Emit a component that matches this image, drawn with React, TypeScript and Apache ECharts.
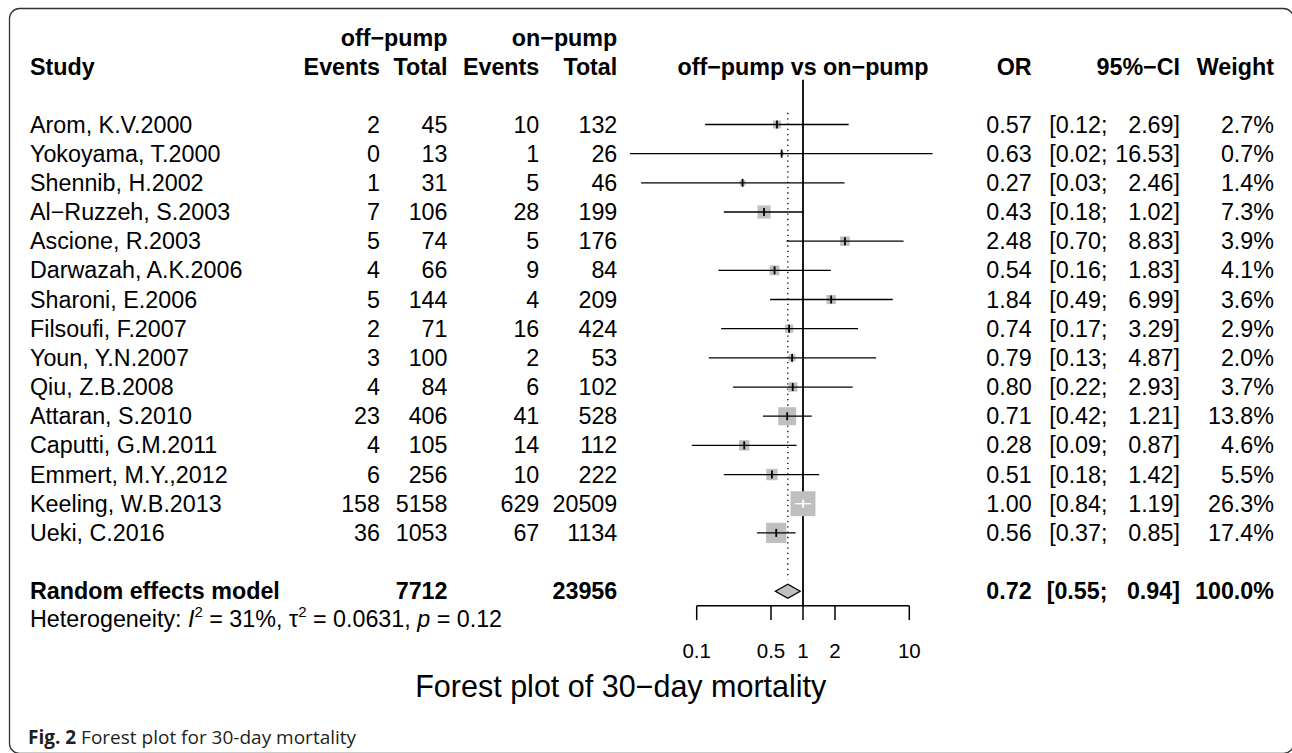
import React, { useEffect, useRef } from "react";
import * as echarts from "echarts";

// ---------------- data ----------------
const studies = [
  "Arom, K.V.2000",
  "Yokoyama, T.2000",
  "Shennib, H.2002",
  "Al\u2212Ruzzeh, S.2003",
  "Ascione, R.2003",
  "Darwazah, A.K.2006",
  "Sharoni, E.2006",
  "Filsoufi, F.2007",
  "Youn, Y.N.2007",
  "Qiu, Z.B.2008",
  "Attaran, S.2010",
  "Caputti, G.M.2011",
  "Emmert, M.Y.,2012",
  "Keeling, W.B.2013",
  "Ueki, C.2016",
];
const eventsOff = [2, 0, 1, 7, 5, 4, 5, 2, 3, 4, 23, 4, 6, 158, 36];
const totalOff = [45, 13, 31, 106, 74, 66, 144, 71, 100, 84, 406, 105, 256, 5158, 1053];
const eventsOn = [10, 1, 5, 28, 5, 9, 4, 16, 2, 6, 41, 14, 10, 629, 67];
const totalOn = [132, 26, 46, 199, 176, 84, 209, 424, 53, 102, 528, 112, 222, 20509, 1134];
const oddsRatio = [0.57, 0.63, 0.27, 0.43, 2.48, 0.54, 1.84, 0.74, 0.79, 0.8, 0.71, 0.28, 0.51, 1.0, 0.56];
const ciLower = [0.12, 0.02, 0.03, 0.18, 0.7, 0.16, 0.49, 0.17, 0.13, 0.22, 0.42, 0.09, 0.18, 0.84, 0.37];
const ciUpper = [2.69, 16.53, 2.46, 1.02, 8.83, 1.83, 6.99, 3.29, 4.87, 2.93, 1.21, 0.87, 1.42, 1.19, 0.85];
const weights = [2.7, 0.7, 1.4, 7.3, 3.9, 4.1, 3.6, 2.9, 2.0, 3.7, 13.8, 4.6, 5.5, 26.3, 17.4];

const pooledLabel = "Random effects model";
const pooledTotalOff = 7712;
const pooledTotalOn = 23956;
const pooledOR = 0.72;
const pooledLower = 0.55;
const pooledUpper = 0.94;
const pooledWeight = 100.0;

const hetI2 = 31;
const hetTau2 = "0.0631";
const hetP = "0.12";

const axisTicks = [0.1, 0.5, 1, 2, 10];
const axisTickLabels = ["0.1", "0.5", "1", "2", "10"];

const groupLabels = ["off\u2212pump", "on\u2212pump"];
const colHeaders = ["Study", "Events", "Total", "Events", "Total", "off\u2212pump vs on\u2212pump", "OR", "95%\u2212CI", "Weight"];
const titleText = "Forest plot of 30\u2212day mortality";
const captionBold = "Fig. 2";
const captionText = "Forest plot for 30-day mortality";

// ---------------- layout ----------------
const W = 1292;
const H = 753;
const ROW0 = 124.5;
const ROWH = 29.17;
const Y_MIN = -4;
const Y_MAX = 21;
const X_LO = 0.02358;
const X_HI = 42.4;
const FONT = "'Liberation Sans', Arial, Helvetica, sans-serif";
const FS = 23.3;
const AX_FS = 20.5;
const SQ = 4.85;

const X_STUDY = 30;
const X_EV_OFF = 380;
const X_TOT_OFF = 447.5;
const X_EV_ON = 539.3;
const X_TOT_ON = 617.3;
const X_OR = 1031.7;
const X_CI_L = 1107.5;
const X_CI_R = 1180;
const X_W = 1274;

const ROW_GROUP = -2.98;
const ROW_HEAD = -1.96;
const ROW_POOLED = 16;
const ROW_HET = 16.96;
const ROW_AXIS = 16.5;
const ROW_TICK_END = 16.99;
const ROW_TICKLAB = 18.03;
const ROW_REF_TOP = -1.53;
const ROW_DOT_TOP = -0.4;
const ROW_DOT_BOT = 15.6;

let measureCtx: CanvasRenderingContext2D | null = null;
function textWidth(t: string, size: number, weight = "normal", style = "normal", family = FONT) {
  if (!measureCtx) measureCtx = document.createElement("canvas").getContext("2d");
  if (!measureCtx) return t.length * size * 0.5;
  measureCtx.font = `${style} ${weight} ${size}px ${family}`;
  return measureCtx.measureText(t).width;
}

function txt(text: string, x: number, y: number, align: string, opts: any = {}) {
  return {
    type: "text",
    silent: true,
    style: {
      text,
      x,
      y,
      fill: opts.fill || "#000",
      fontSize: opts.fontSize || FS,
      fontFamily: opts.fontFamily || FONT,
      fontWeight: opts.fontWeight || "normal",
      fontStyle: opts.fontStyle || "normal",
      align,
      verticalAlign: "middle",
    },
  };
}

function seg(x0: number, y: number, parts: any[], baseSize: number) {
  const out: any[] = [];
  let x = x0;
  for (const p of parts) {
    const size = p.size || baseSize;
    const weight = p.bold ? "bold" : "normal";
    const style = p.italic ? "italic" : "normal";
    const lead = p.t.length - p.t.replace(/^\s+/, "").length;
    const leadW = lead ? textWidth(p.t.slice(0, lead), size, weight, style, p.family || FONT) : 0;
    const trimmed = p.t.trim();
    if (trimmed) {
      out.push(
        txt(trimmed, x + leadW, y + (p.dy || 0), "left", {
          fontSize: size,
          fontWeight: weight,
          fontStyle: style,
          fontFamily: p.family || FONT,
          fill: p.fill,
        })
      );
    }
    x += textWidth(p.t, size, weight, style, p.family || FONT);
  }
  return out;
}

export default function App() {
  const ref = useRef<HTMLDivElement>(null);
  useEffect(() => {
    if (!ref.current) return;
    const chart = echarts.init(ref.current, null, { renderer: "svg", width: W, height: H });

    const studyData = studies.map((_, i) => [oddsRatio[i], ciLower[i], ciUpper[i], i, weights[i]]);

    const studyRender = (params: any, api: any) => {
      const i = params.dataIndex;
      const est = api.value(0);
      const lo = api.value(1);
      const hi = api.value(2);
      const row = api.value(3);
      const w = api.value(4);
      const c = api.coord([est, row]);
      const y = c[1];
      const xl = api.coord([Math.max(lo, X_LO), row])[0];
      const xh = api.coord([Math.min(hi, X_HI), row])[0];
      const side = SQ * Math.sqrt(w);
      const inside = xl >= c[0] - side / 2 && xh <= c[0] + side / 2;
      const lc = inside ? "#ffffff" : "#000000";
      const children: any[] = [
        { type: "rect", silent: true, shape: { x: c[0] - side / 2, y: y - side / 2, width: side, height: side }, style: { fill: "#bfbfbf" } },
        { type: "line", silent: true, shape: { x1: xl, y1: y, x2: xh, y2: y }, style: { stroke: lc, lineWidth: 1.3 } },
        { type: "line", silent: true, shape: { x1: c[0], y1: y - 4, x2: c[0], y2: y + 4 }, style: { stroke: lc, lineWidth: 1.8 } },
        txt(studies[i], X_STUDY, y, "left"),
        txt(String(eventsOff[i]), X_EV_OFF, y, "right"),
        txt(String(totalOff[i]), X_TOT_OFF, y, "right"),
        txt(String(eventsOn[i]), X_EV_ON, y, "right"),
        txt(String(totalOn[i]), X_TOT_ON, y, "right"),
        txt(est.toFixed(2), X_OR, y, "right"),
        txt("[" + lo.toFixed(2) + ";", X_CI_L, y, "right"),
        txt(hi.toFixed(2) + "]", X_CI_R, y, "right"),
        txt(w.toFixed(1) + "%", X_W, y, "right"),
      ];
      return { type: "group", children };
    };

    const frameRender = (params: any, api: any) => {
      const est = api.value(0);
      const lo = api.value(1);
      const hi = api.value(2);
      const row = api.value(3);
      const one = api.coord([1, row]);
      const yP = one[1];
      const yTop = api.coord([1, ROW_REF_TOP])[1];
      const yAxis = api.coord([1, ROW_AXIS])[1];
      const yTickEnd = api.coord([1, ROW_TICK_END])[1];
      const yTickLab = api.coord([1, ROW_TICKLAB])[1];
      const xEst = api.coord([est, row])[0];
      const xLo = api.coord([lo, row])[0];
      const xHi = api.coord([hi, row])[0];
      const yDotTop = api.coord([est, ROW_DOT_TOP])[1];
      const yDotBot = api.coord([est, ROW_DOT_BOT])[1];
      const xAxisL = api.coord([axisTicks[0], ROW_AXIS])[0];
      const xAxisR = api.coord([axisTicks[axisTicks.length - 1], ROW_AXIS])[0];
      const yG = api.coord([1, ROW_GROUP])[1];
      const yH = api.coord([1, ROW_HEAD])[1];
      const yHet = api.coord([1, ROW_HET])[1];

      const children: any[] = [
        { type: "line", silent: true, shape: { x1: one[0], y1: yTop, x2: one[0], y2: yAxis }, style: { stroke: "#000", lineWidth: 1.8 } },
        { type: "line", silent: true, shape: { x1: xEst, y1: yDotTop, x2: xEst, y2: yDotBot }, style: { stroke: "#000", lineWidth: 1.3, lineDash: [1.3, 4] } },
        { type: "line", silent: true, shape: { x1: xAxisL, y1: yAxis, x2: xAxisR, y2: yAxis }, style: { stroke: "#000", lineWidth: 1.5 } },
      ];
      axisTicks.forEach((t, k) => {
        const x = api.coord([t, ROW_AXIS])[0];
        children.push({ type: "line", silent: true, shape: { x1: x, y1: yAxis, x2: x, y2: yTickEnd }, style: { stroke: "#000", lineWidth: 1.5 } });
        children.push(txt(axisTickLabels[k], x, yTickLab, "center", { fontSize: AX_FS }));
      });
      children.push({
        type: "polygon",
        silent: true,
        shape: { points: [[xLo, yP], [xEst, yP - 7], [xHi, yP], [xEst, yP + 7]] },
        style: { fill: "#c0c0c0", stroke: "#000", lineWidth: 1.3 },
      });
      const B = { fontWeight: "bold" };
      // header rows
      children.push(txt(groupLabels[0], X_TOT_OFF, yG, "right", B));
      children.push(txt(groupLabels[1], X_TOT_ON, yG, "right", B));
      children.push(txt(colHeaders[0], X_STUDY, yH, "left", B));
      children.push(txt(colHeaders[1], X_EV_OFF, yH, "right", B));
      children.push(txt(colHeaders[2], X_TOT_OFF, yH, "right", B));
      children.push(txt(colHeaders[3], X_EV_ON, yH, "right", B));
      children.push(txt(colHeaders[4], X_TOT_ON, yH, "right", B));
      children.push(txt(colHeaders[5], one[0], yH, "center", B));
      children.push(txt(colHeaders[6], X_OR, yH, "right", B));
      children.push(txt(colHeaders[7], X_CI_R, yH, "right", B));
      children.push(txt(colHeaders[8], X_W, yH, "right", B));
      // pooled row
      children.push(txt(pooledLabel, X_STUDY, yP, "left", B));
      children.push(txt(String(pooledTotalOff), X_TOT_OFF, yP, "right", B));
      children.push(txt(String(pooledTotalOn), X_TOT_ON, yP, "right", B));
      children.push(txt(est.toFixed(2), X_OR, yP, "right", B));
      children.push(txt("[" + lo.toFixed(2) + ";", X_CI_L, yP, "right", B));
      children.push(txt(hi.toFixed(2) + "]", X_CI_R, yP, "right", B));
      children.push(txt(pooledWeight.toFixed(1) + "%", X_W, yP, "right", B));
      // heterogeneity
      const SUP = 15;
      seg(X_STUDY, yHet, [
        { t: "Heterogeneity: " },
        { t: "I", italic: true },
        { t: "2", size: SUP, dy: -8 },
        { t: " = " + hetI2 + "%, " },
        { t: "\u03c4" },
        { t: "2", size: SUP, dy: -8 },
        { t: " = " + hetTau2 + ", " },
        { t: "p", italic: true },
        { t: " = " + hetP },
      ], FS).forEach((e) => children.push(e));
      return { type: "group", children };
    };

    const capFont = "'Open Sans', 'Noto Sans', sans-serif";
    const capSize = 19;
    const capBoldW = textWidth(captionBold + " ", capSize, "bold", "normal", capFont);

    chart.setOption({
      animation: false,
      backgroundColor: "#ffffff",
      grid: {
        left: 630,
        right: W - 976,
        top: ROW0 + Y_MIN * ROWH,
        bottom: H - (ROW0 + Y_MAX * ROWH),
        containLabel: false,
      },
      xAxis: { type: "log", logBase: 10, min: X_LO, max: X_HI, show: false },
      yAxis: { type: "value", inverse: true, min: Y_MIN, max: Y_MAX, show: false },
      series: [
        {
          type: "custom",
          clip: false,
          silent: true,
          encode: { x: 0, y: 3 },
          data: [[pooledOR, pooledLower, pooledUpper, ROW_POOLED]],
          renderItem: frameRender,
          z: 1,
        },
        {
          type: "custom",
          clip: false,
          silent: true,
          encode: { x: 0, y: 3 },
          data: studyData,
          renderItem: studyRender,
          z: 2,
        },
      ],
      graphic: [
        {
          type: "rect",
          silent: true,
          shape: { x: 9.5, y: 8.5, width: 1284, height: 745, r: 10 },
          style: { fill: "none", stroke: "#333", lineWidth: 1.3 },
        },
        {
          type: "text",
          silent: true,
          style: {
            text: titleText,
            x: 620.8,
            y: 686,
            fill: "#000",
            fontSize: 30.5,
            fontFamily: FONT,
            align: "center",
            verticalAlign: "middle",
          },
        },
        {
          type: "text",
          silent: true,
          style: {
            text: captionBold,
            x: 28,
            y: 737,
            fill: "#231f20",
            fontSize: capSize,
            fontWeight: "bold",
            fontFamily: capFont,
            align: "left",
            verticalAlign: "middle",
          },
        },
        {
          type: "text",
          silent: true,
          style: {
            text: captionText,
            x: 28 + capBoldW,
            y: 737,
            fill: "#231f20",
            fontSize: capSize,
            fontFamily: capFont,
            align: "left",
            verticalAlign: "middle",
          },
        },
      ],
    });
    return () => chart.dispose();
  }, []);
  return <div ref={ref} style={{ position: "fixed", left: 0, top: 0, width: W, height: H, background: "#fff" }} />;
}
